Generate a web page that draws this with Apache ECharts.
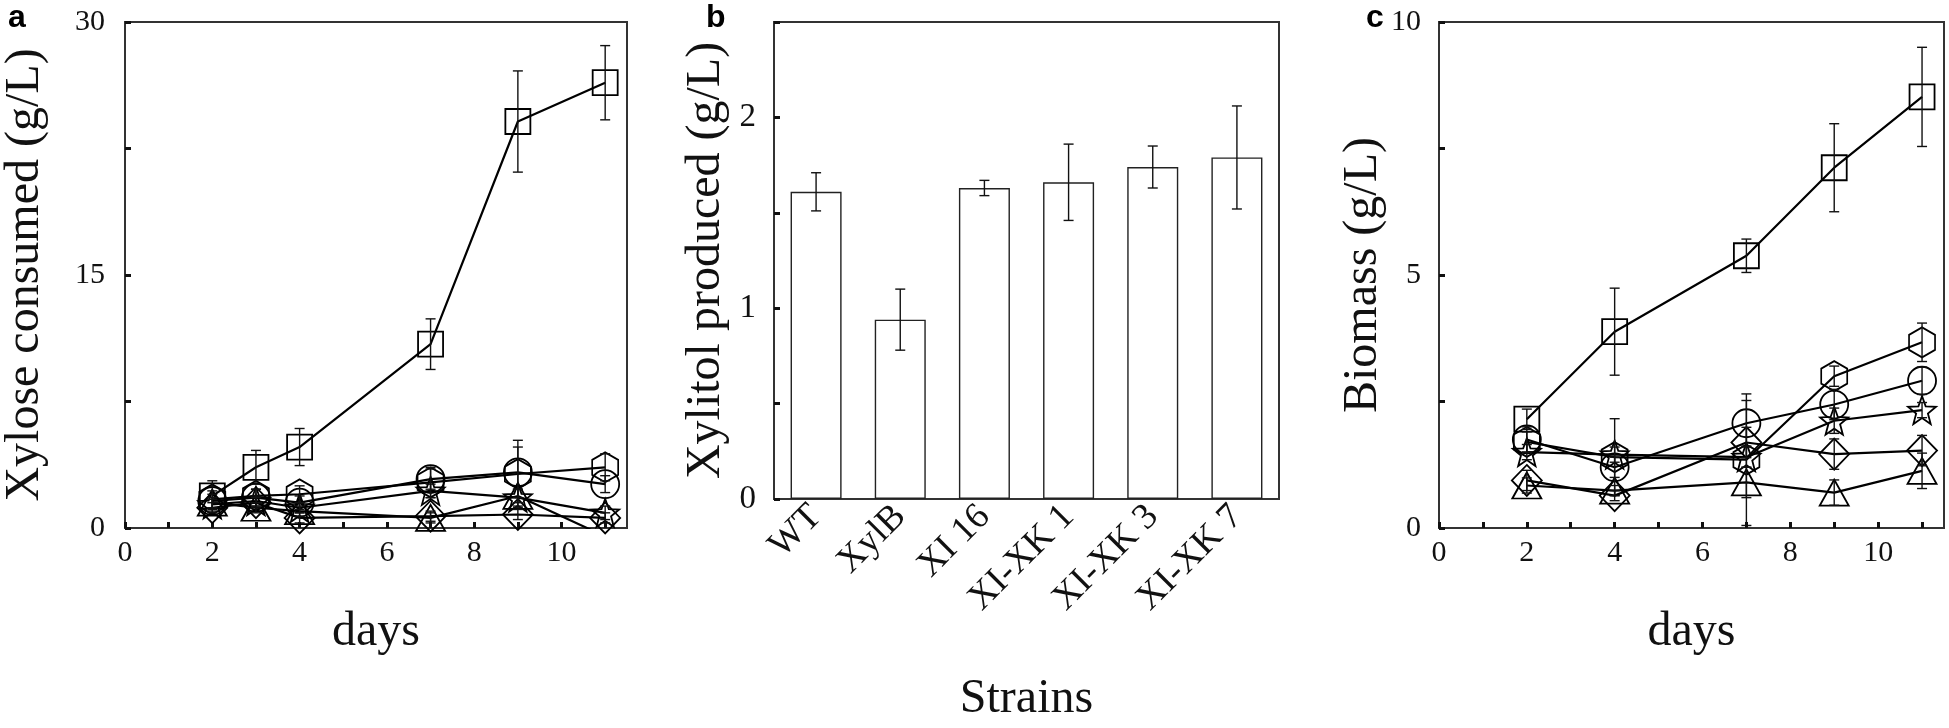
<!DOCTYPE html>
<html><head><meta charset="utf-8">
<script src="https://cdn.jsdelivr.net/npm/echarts@6.0.0/dist/echarts.min.js"></script>
<style>html,body{margin:0;padding:0;background:#fff}#chart{width:1949px;height:728px}</style>
</head><body><div id="chart"></div>
<script>
// ---------- DATA ----------
const daysA = [2, 3, 4, 7, 9, 11];
const xyloseSquare = [1.9, 3.6, 4.8, 10.9, 24.1, 26.4];
const xyloseSquareErr = [0.9, 1.0, 1.1, 1.5, 3.0, 2.2];
const xyloseHexagon = [1.7, 1.9, 2.0, 2.7, 3.2, 3.6];
const xyloseHexagonErr = [0.5, 0.4, 0.5, 0.9, 2.0, 0.8];
const xyloseCircle = [1.6, 1.8, 1.5, 2.9, 3.3, 2.6];
const xyloseCircleErr = [0.4, 0.5, 0.4, 0.6, 1.5, 0.5];
const xyloseStar = [1.4, 1.6, 1.2, 2.2, 1.8, 0.9];
const xyloseStarErr = [0.3, 0.3, 0.3, 0.4, 0.5, 0.4];
const xyloseDiamond = [1.2, 1.5, 0.6, 0.7, 0.8, 0.6];
const xyloseDiamondErr = [0.3, 0.3, 0.3, 0.3, 0.3, 0.3];
const xyloseTriangle = [1.5, 1.2, 1.0, 0.6, 1.9, -0.5];
const xyloseTriangleErr = [0.3, 0.3, 0.3, 0.3, 0.4, 0];

const strains = ['WT', 'XylB', 'XI 16', 'XI-XK 1', 'XI-XK 3', 'XI-XK 7'];
const xylitol = [1.61, 0.94, 1.63, 1.66, 1.74, 1.79];
const xylitolErr = [0.10, 0.16, 0.04, 0.20, 0.11, 0.27];

const daysC = [2, 4, 7, 9, 11];
const biomassSquare = [2.15, 3.88, 5.38, 7.12, 8.52];
const biomassSquareErr = [0.2, 0.86, 0.33, 0.87, 0.98];
const biomassHexagon = [1.7, 1.4, 1.35, 3.0, 3.67];
const biomassHexagonErr = [0.2, 0.76, 1.3, 0.2, 0.38];
const biomassCircle = [1.75, 1.2, 2.07, 2.44, 2.91];
const biomassCircleErr = [0.25, 0.2, 0.45, 0.3, 0.27];
const biomassStar = [1.5, 1.45, 1.4, 2.12, 2.33];
const biomassStarErr = [0.15, 0.15, 0.2, 0.25, 0.15];
const biomassDiamond = [0.94, 0.64, 1.69, 1.46, 1.53];
const biomassDiamondErr = [0.2, 0.1, 0.3, 0.3, 0.3];
const biomassTriangle = [0.84, 0.74, 0.9, 0.7, 1.13];
const biomassTriangleErr = [0.15, 0.1, 0.3, 0.25, 0.35];

const yTicksA = [0, 15, 30];
const yTicksB = [0, 1, 2];
const yTicksC = [0, 5, 10];
const xTickLabels = [0, 2, 4, 6, 8, 10];

// ---------- SHAPES ----------
function starPath() {
  let pts = [];
  for (let k = 0; k < 10; k++) {
    const r = k % 2 === 0 ? 10 : 4.2;
    const a = (-90 + k * 36) * Math.PI / 180;
    pts.push((r * Math.cos(a)).toFixed(2) + ',' + (r * Math.sin(a)).toFixed(2));
  }
  return 'path://M' + pts.join(' L') + ' Z';
}
const SYM = {
  square: { symbol: 'rect', size: 25 },
  circle: { symbol: 'circle', size: 28 },
  triangle: { symbol: 'triangle', size: [29, 26] },
  diamond: { symbol: 'diamond', size: [30, 31] },
  hexagon: { symbol: 'path://M0,-10 L8.66,-5 L8.66,5 L0,10 L-8.66,5 L-8.66,-5 Z', size: [26, 30] },
  star: { symbol: starPath(), size: 28 }
};

const serif = 'Liberation Serif';
const INK = '#111';

function lineSeries(gi, xs, ys, shape) {
  return {
    type: 'line', xAxisIndex: gi, yAxisIndex: gi,
    data: xs.map((x, i) => [x, ys[i]]),
    symbol: SYM[shape].symbol, symbolSize: SYM[shape].size, symbolKeepAspect: false,
    showAllSymbol: true, smooth: false, clip: true,
    lineStyle: { color: '#000', width: 2.2 },
    itemStyle: { color: 'rgba(0,0,0,0)', borderColor: '#000', borderWidth: 1.8 },
    emphasis: { disabled: true }, silent: true, z: 3
  };
}
function errRender(params, api) {
  const x = api.value(0);
  const lo = api.value(1), hi = api.value(2);
  if (hi <= lo) return null;
  const p1 = api.coord([x, lo]), p2 = api.coord([x, hi]);
  const w = 5;
  const style = { stroke: INK, lineWidth: 1.4, fill: null };
  return {
    type: 'group', children: [
      { type: 'line', shape: { x1: p1[0], y1: p1[1], x2: p2[0], y2: p2[1] }, style },
      { type: 'line', shape: { x1: p1[0] - w, y1: p1[1], x2: p1[0] + w, y2: p1[1] }, style },
      { type: 'line', shape: { x1: p2[0] - w, y1: p2[1], x2: p2[0] + w, y2: p2[1] }, style }
    ]
  };
}
function errSeries(gi, xs, ys, es) {
  return {
    type: 'custom', xAxisIndex: gi, yAxisIndex: gi, renderItem: errRender, clip: true,
    data: xs.map((x, i) => [x, Math.max(0, ys[i] - es[i]), ys[i] + es[i]]),
    silent: true, z: 4
  };
}

const grids = [
  { left: 122, top: 22, width: 505, height: 506 },
  { left: 774, top: 22, width: 505, height: 506 },
  { left: 1439, top: 22, width: 505, height: 506 }
].map(g => Object.assign(g, { show: true, borderColor: '#333', borderWidth: 2, containLabel: false }));

const axisLineStyle = { show: true, lineStyle: { color: '#333', width: 2 } };
const tickStyle = { show: true, inside: true, length: 6, lineStyle: { color: INK, width: 3 } };
const labelStyle = { fontFamily: serif, fontSize: 30, color: INK };
const labelStyleB = { fontFamily: serif, fontSize: 33, color: INK };
const catStyle = { fontFamily: serif, fontSize: 37, color: INK };
const nameStyle = { fontFamily: serif, fontSize: 48, color: INK };

function daysAxis(gi) {
  return {
    type: 'value', gridIndex: gi, min: 0, max: 11.5, interval: 1,
    axisLine: axisLineStyle, axisTick: tickStyle, splitLine: { show: false },
    axisLabel: Object.assign({ margin: 10, showMaxLabel: false,
      formatter: v => xTickLabels.indexOf(v) >= 0 ? String(v) : '' }, labelStyle),
    name: 'days', nameLocation: 'middle', nameGap: 80, nameTextStyle: nameStyle
  };
}
function yAxisDef(gi, max, interval, labels, name, gap, ls, margin) {
  return {
    type: 'value', gridIndex: gi, min: 0, max: max, interval: interval,
    axisLine: axisLineStyle, axisTick: tickStyle, splitLine: { show: false },
    axisLabel: Object.assign({ margin: margin,
      formatter: v => labels.indexOf(v) >= 0 ? String(v) : '' }, ls),
    name: name, nameLocation: 'middle', nameGap: gap, nameTextStyle: nameStyle
  };
}

const series = [];
// panel a
[['square', xyloseSquare, xyloseSquareErr], ['hexagon', xyloseHexagon, xyloseHexagonErr],
 ['circle', xyloseCircle, xyloseCircleErr], ['star', xyloseStar, xyloseStarErr],
 ['diamond', xyloseDiamond, xyloseDiamondErr], ['triangle', xyloseTriangle, xyloseTriangleErr]]
.forEach(([s, v, e]) => {
  series.push(lineSeries(0, daysA, v, s));
  series.push(errSeries(0, daysA, v, e));
});
// panel b
series.push({
  type: 'bar', xAxisIndex: 1, yAxisIndex: 1, data: xylitol, barWidth: 51,
  itemStyle: { color: '#fff', borderColor: '#222', borderWidth: 1.4 }, silent: true, z: 2
});
series.push({
  type: 'custom', xAxisIndex: 1, yAxisIndex: 1, renderItem: errRender, silent: true, z: 4,
  data: strains.map((s, i) => [i, xylitol[i] - xylitolErr[i], xylitol[i] + xylitolErr[i]])
});
// panel c
[['square', biomassSquare, biomassSquareErr], ['hexagon', biomassHexagon, biomassHexagonErr],
 ['circle', biomassCircle, biomassCircleErr], ['star', biomassStar, biomassStarErr],
 ['diamond', biomassDiamond, biomassDiamondErr], ['triangle', biomassTriangle, biomassTriangleErr]]
.forEach(([s, v, e]) => {
  series.push(lineSeries(2, daysC, v, s));
  series.push(errSeries(2, daysC, v, e));
});

const chart = echarts.init(document.getElementById('chart'), null, { renderer: 'canvas' });
chart.setOption({
  animation: false,
  backgroundColor: '#fff',
  grid: grids,
  xAxis: [
    daysAxis(0),
    {
      type: 'category', gridIndex: 1, data: strains, boundaryGap: true,
      axisLine: axisLineStyle, axisTick: Object.assign({}, tickStyle, { alignWithLabel: true }),
      axisLabel: Object.assign({ rotate: 45, margin: 12, interval: 0 }, catStyle),
      name: 'Strains', nameLocation: 'middle', nameGap: 176, nameTextStyle: nameStyle
    },
    daysAxis(2)
  ],
  yAxis: [
    yAxisDef(0, 30, 7.5, yTicksA, 'Xylose consumed (g/L)', 76, labelStyle, 20),
    yAxisDef(1, 2.5, 0.5, yTicksB, 'Xylitol produced (g/L)', 44, labelStyleB, 18),
    yAxisDef(2, 10, 2.5, yTicksC, 'Biomass (g/L)', 40, labelStyle, 18)
  ],
  graphic: [
    { type: 'text', left: 8, top: 2, style: { text: 'a', font: 'bold 32px "Liberation Sans"', fill: '#000' } },
    { type: 'text', left: 706, top: 2, style: { text: 'b', font: 'bold 32px "Liberation Sans"', fill: '#000' } },
    { type: 'text', left: 1366, top: 2, style: { text: 'c', font: 'bold 32px "Liberation Sans"', fill: '#000' } }
  ],
  series: series
});
</script></body></html>
